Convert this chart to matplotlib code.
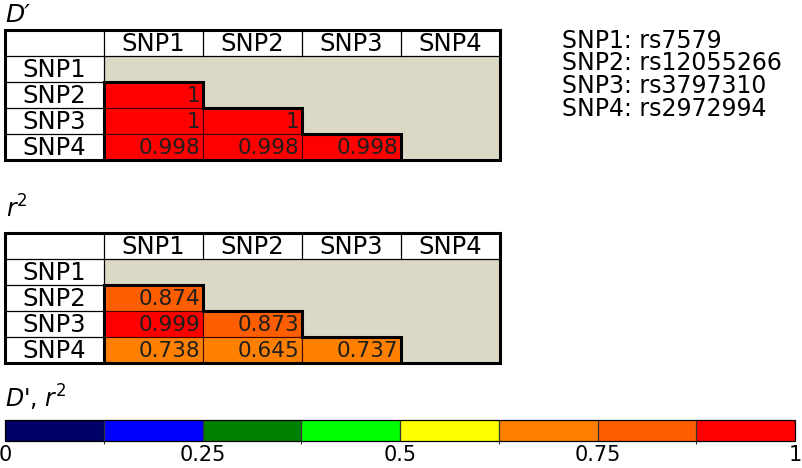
import numpy as np
import matplotlib.pyplot as plt
from matplotlib.patches import Rectangle, Polygon
from matplotlib.colors import ListedColormap, BoundaryNorm
from matplotlib.colorbar import ColorbarBase

plt.rcParams['font.family'] = ['DejaVu Sans']
plt.rcParams['mathtext.fontset'] = 'dejavusans'

# datos
snps = ['SNP1', 'SNP2', 'SNP3', 'SNP4']
rs_ids = ['rs7579', 'rs12055266', 'rs3797310', 'rs2972994']
# triangulo inferior, fila i tiene i valores
d_prime = [[], [1], [1, 1], [0.998, 0.998, 0.998]]
d_prime_txt = [[], ['1'], ['1', '1'], ['0.998', '0.998', '0.998']]
r2 = [[], [0.874], [0.999, 0.873], [0.738, 0.645, 0.737]]
r2_txt = [[], ['0.874'], ['0.999', '0.873'], ['0.738', '0.645', '0.737']]

bins = [0, 0.125, 0.25, 0.375, 0.5, 0.625, 0.75, 0.875, 1]
bin_colors = ['#000066', '#0000ff', '#008000', '#00ff00',
              '#ffff00', '#ff8000', '#ff5e00', '#ff0000']
tick_vals = [0, 0.25, 0.5, 0.75, 1]
tick_labels = ['0', '0.25', '0.5', '0.75', '1']

cmap = ListedColormap(bin_colors)
norm = BoundaryNorm(bins, cmap.N)

W, H = 803, 468
fig = plt.figure(figsize=(W / 100, H / 100), dpi=100)


def px_axes(x0, y0, x1, y1):
    # ejes posicionados en pixeles (origen arriba a la izquierda)
    return fig.add_axes([x0 / W, 1 - y1 / H, (x1 - x0) / W, (y1 - y0) / H])


def tabla(ax, valores, textos):
    n = len(snps)
    ax.set_xlim(0, n + 1)
    ax.set_ylim(n + 1, 0)
    ax.axis('off')
    # zona gris
    ax.add_patch(Rectangle((1, 1), n, n, facecolor='#dcd8c6', edgecolor='none'))
    # cabeceras
    for k, s in enumerate(snps):
        ax.text(k + 1.5, 0.52, s, ha='center', va='center', fontsize=17.5)
        ax.text(0.5, k + 1.52, s, ha='center', va='center', fontsize=17.5)
    # lineas finas
    for k in range(1, n + 1):
        ax.plot([k, k], [0, 1], color='black', lw=0.9)
        ax.plot([0, 1], [k, k], color='black', lw=0.9)
    ax.plot([1, n + 1], [1, 1], color='black', lw=0.9)
    ax.plot([1, 1], [1, n + 1], color='black', lw=0.9)
    # celdas coloreadas
    for i, fila in enumerate(valores):
        for j, v in enumerate(fila):
            ax.add_patch(Rectangle((j + 1, i + 1), 1, 1, facecolor=cmap(norm(v)),
                                   edgecolor='#400000', lw=0.8))
            ax.text(j + 1.97, i + 1.55, textos[i][j], ha='right', va='center',
                    fontsize=15.5, color='#1e1e1e')
    # contorno escalonado
    pts = [(1, 2)]
    for i, fila in enumerate(valores):
        if len(fila) == 0:
            continue
        pts.append((len(fila) + 1, i + 1))
        pts.append((len(fila) + 1, i + 2))
    pts.append((1, n + 1))
    ax.add_patch(Polygon(pts, closed=True, fill=False, edgecolor='black', lw=2.2))
    # borde exterior
    ax.add_patch(Rectangle((0, 0), n + 1, n + 1, fill=False, edgecolor='black',
                           lw=2.2, clip_on=False))


ax1 = px_axes(5, 30, 500, 160)
tabla(ax1, d_prime, d_prime_txt)
fig.text(5 / W, 1 - 15 / H, "D\u2032", fontsize=18, style='italic',
         ha='left', va='center')

ax2 = px_axes(5, 233, 500, 363)
tabla(ax2, r2, r2_txt)
fig.text(6 / W, 1 - 209 / H, "$r^2$", fontsize=17, ha='left', va='center')

# leyenda de ids
for k, (s, r) in enumerate(zip(snps, rs_ids)):
    fig.text(562 / W, 1 - (41 + 22.5 * k) / H, f"{s}: {r}", fontsize=17,
             ha='left', va='center')

# barra de colores
cax = px_axes(5, 420, 795, 441)
cb = ColorbarBase(cax, cmap=cmap, norm=norm, orientation='horizontal',
                  boundaries=bins, ticks=tick_vals, drawedges=True)
cb.outline.set_linewidth(0.9)
cb.dividers.set_linewidth(0.9)
cb.dividers.set_color('#333333')
cax.set_xticks(tick_vals)
cax.set_xticklabels(tick_labels, fontsize=15)
cax.tick_params(axis='x', length=0, pad=3)
fig.text(5 / W, 1 - 398 / H, "$D$', $r^2$", fontsize=17, ha='left', va='center')

fig.savefig('out.png', dpi=100)
